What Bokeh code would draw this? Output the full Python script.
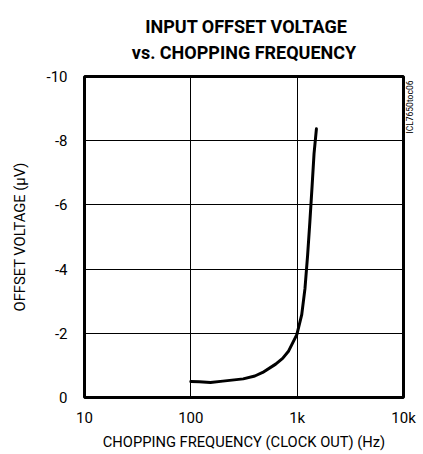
from math import pi
from bokeh.plotting import figure
from bokeh.models import FixedTicker, Range1d, LinearAxis
from bokeh.embed import file_html
from bokeh.resources import INLINE

# ---- data ----
freq_hz = [100, 120, 153, 200, 311, 400, 474, 628, 730, 832, 993, 1104, 1184, 1253, 1315, 1381, 1441, 1517]
offset_uv = [-0.50, -0.49, -0.47, -0.51, -0.58, -0.67, -0.78, -1.04, -1.22, -1.45, -1.96, -2.58, -3.39,
             -4.42, -5.45, -6.58, -7.60, -8.37]
x_ticks = [10, 100, 1000, 10000]
x_tick_labels = ["10", "100", "1k", "10k"]
y_ticks = [0, -2, -4, -6, -8, -10]
y_tick_labels = ["0", "-2", "-4", "-6", "-8", "-10"]
x_grid = [100, 1000]
y_grid = [-2, -4, -6, -8]
title_lines = ["INPUT OFFSET VOLTAGE", "vs. CHOPPING FREQUENCY"]
x_label = "CHOPPING FREQUENCY (CLOCK OUT) (Hz)"
y_label = "OFFSET VOLTAGE (\u03bcV)"
side_note = "ICL7650toc06"
side_note_pos = [822]  # position along a 0..1000 helper scale on the right edge

FONT = "Roboto"

p = figure(width=423, height=454, x_axis_type="log",
           x_range=Range1d(10, 10000), y_range=Range1d(0, -10),
           output_backend="svg", toolbar_location=None,
           min_border_left=84, min_border_right=17, min_border_top=72, min_border_bottom=57)
p.background_fill_color = "white"
p.border_fill_color = "white"
p.outline_line_color = "black"
p.outline_line_width = 3

p.line(freq_hz, offset_uv, line_width=3, line_color="black", line_join="round", line_cap="round")

p.xaxis.ticker = FixedTicker(ticks=x_ticks)
p.xaxis.major_label_overrides = dict(zip(x_ticks, x_tick_labels))
p.yaxis.ticker = FixedTicker(ticks=y_ticks)
p.yaxis.major_label_overrides = dict(zip(y_ticks, y_tick_labels))

# document code along the right edge, via a label-only axis on the right
p.extra_y_ranges = {"note": Range1d(0, 1000)}
note_axis = LinearAxis(y_range_name="note", ticker=FixedTicker(ticks=side_note_pos),
                       major_label_overrides={side_note_pos[0]: side_note},
                       major_label_orientation=pi / 2)
p.add_layout(note_axis, "right")

for ax in p.axis:
    ax.axis_line_color = None
    ax.major_tick_line_color = None
    ax.minor_tick_line_color = None
    ax.major_tick_out = 0
    ax.major_tick_in = 0
    ax.major_label_text_font = FONT
    ax.major_label_text_font_size = "15px"
    ax.major_label_text_color = "black"
    ax.axis_label_text_font = FONT
    ax.axis_label_text_font_size = "14.7px"
    ax.axis_label_text_font_style = "normal"
    ax.axis_label_text_color = "black"
note_axis.major_label_text_font_size = "8.5px"
note_axis.major_label_standoff = 7

p.xaxis[0].axis_label = x_label
p.yaxis[0].axis_label = y_label
p.xaxis[0].major_label_standoff = 11
p.xaxis[0].axis_label_standoff = 3
p.yaxis[0].major_label_standoff = 17
p.yaxis[0].axis_label_standoff = 14

p.xgrid.ticker = FixedTicker(ticks=x_grid)
p.ygrid.ticker = FixedTicker(ticks=y_grid)
for g in (p.xgrid, p.ygrid):
    g.grid_line_color = "black"
    g.grid_line_alpha = 1.0
    g.grid_line_width = 1

# two-line title in a single block; lines are left-aligned in the block, so the shorter first
# line is padded with no-break spaces to sit centred over the second
p.title.text = "\u00a0\u00a0\u00a0" + title_lines[0] + "\n" + title_lines[1]
p.title.align = "center"
p.title.text_font = FONT
p.title.text_font_size = "18px"
p.title.text_font_style = "bold"
p.title.text_color = "black"
p.title.text_line_height = 1.23
p.title.standoff = 27

open("out.html", "w").write(file_html(p, INLINE))
